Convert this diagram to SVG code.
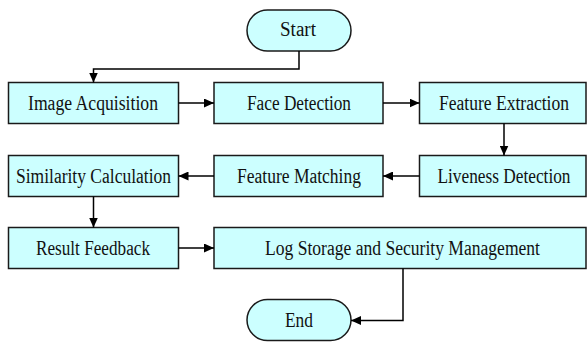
<svg xmlns="http://www.w3.org/2000/svg" width="587" height="343" viewBox="0 0 587 343">
  <defs>
    <marker id="arrow" markerUnits="userSpaceOnUse" markerWidth="10" markerHeight="9" refX="10" refY="4.5" orient="auto">
      <path d="M0,0 L10,4.5 L0,9 z" fill="#000"/>
    </marker>
  </defs>
  <style>
    .box { fill: #ccffff; stroke: #1a1a1a; stroke-width: 1.5; }
    .lbl { font-family: 'Liberation Serif', 'Times New Roman', serif; font-size: 20px; fill: #111; text-anchor: middle; }
    .edge { fill: none; stroke: #000; stroke-width: 1.5; marker-end: url(#arrow); }
  </style>
  <rect width="587" height="343" fill="#fff"/>

  <!-- process steps; labels are set in a narrow serif -->
  <g id="start">
    <rect class="box" x="247" y="10" width="104" height="41" rx="20.5"/>
    <text class="lbl" x="298" y="36" textLength="36" lengthAdjust="spacingAndGlyphs">Start</text>
  </g>
  <g id="image-acquisition">
    <rect class="box" x="8.5" y="82.5" width="170" height="41"/>
    <text class="lbl" x="93" y="110" textLength="130" lengthAdjust="spacingAndGlyphs">Image Acquisition</text>
  </g>
  <g id="face-detection">
    <rect class="box" x="214" y="82.5" width="169" height="41"/>
    <text class="lbl" x="299" y="110" textLength="104" lengthAdjust="spacingAndGlyphs">Face Detection</text>
  </g>
  <g id="feature-extraction">
    <rect class="box" x="419.5" y="82.5" width="166.5" height="41"/>
    <text class="lbl" x="504" y="110" textLength="130" lengthAdjust="spacingAndGlyphs">Feature Extraction</text>
  </g>
  <g id="liveness-detection">
    <rect class="box" x="419.5" y="155.5" width="166.5" height="41"/>
    <text class="lbl" x="504" y="183" textLength="133" lengthAdjust="spacingAndGlyphs">Liveness Detection</text>
  </g>
  <g id="feature-matching">
    <rect class="box" x="214" y="155.5" width="169" height="41"/>
    <text class="lbl" x="299" y="183" textLength="124" lengthAdjust="spacingAndGlyphs">Feature Matching</text>
  </g>
  <g id="similarity-calculation">
    <rect class="box" x="8.5" y="155.5" width="170" height="41"/>
    <text class="lbl" x="93.5" y="183" textLength="155" lengthAdjust="spacingAndGlyphs">Similarity Calculation</text>
  </g>
  <g id="result-feedback">
    <rect class="box" x="8.5" y="227.5" width="170" height="41"/>
    <text class="lbl" x="93" y="254.5" textLength="114" lengthAdjust="spacingAndGlyphs">Result Feedback</text>
  </g>
  <g id="log-storage">
    <rect class="box" x="214" y="227.5" width="372" height="41"/>
    <text class="lbl" x="402.5" y="254.5" textLength="275" lengthAdjust="spacingAndGlyphs">Log Storage and Security Management</text>
  </g>
  <g id="end">
    <rect class="box" x="247" y="299.5" width="104" height="41" rx="20.5"/>
    <text class="lbl" x="299" y="327" textLength="28" lengthAdjust="spacingAndGlyphs">End</text>
  </g>

  <g id="connectors">
    <path class="edge" d="M299,51 V69 H93.5 V82.5"/>
    <path class="edge" d="M178.5,103 H214"/>
    <path class="edge" d="M383,103 H419.5"/>
    <path class="edge" d="M504,123.5 V155.5"/>
    <path class="edge" d="M419.5,176 H383"/>
    <path class="edge" d="M214,176 H178.5"/>
    <path class="edge" d="M93.5,196.5 V227.5"/>
    <path class="edge" d="M178.5,248 H214"/>
    <path class="edge" d="M403,268.5 V320.5 H351"/>
  </g>
</svg>
